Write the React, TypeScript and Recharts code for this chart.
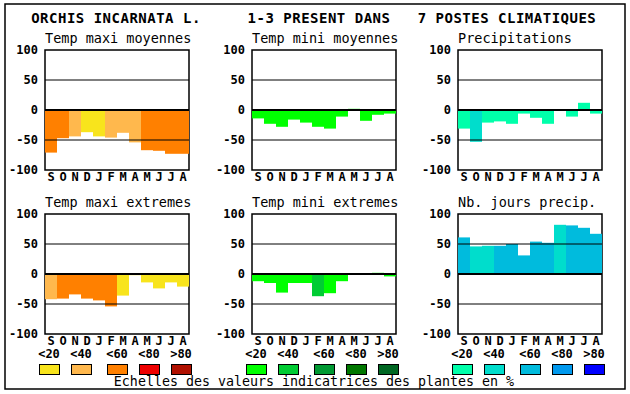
import { Bar, BarChart, Cell, ReferenceArea, ReferenceLine, XAxis, YAxis } from "recharts";

const months = ["S", "O", "N", "D", "J", "F", "M", "A", "M", "J", "J", "A"];
const yTicks = [100, 50, 0, -50, -100];
const classLabels = ["<20", "<40", "<60", "<80", ">80"];

// values, class = index into the palette (<20 ... >80)
const maxiMoyValues = [-71, -47, -44, -37, -44, -46, -38, -54, -67, -68, -73, -73];
const maxiMoyClass = [2, 2, 1, 0, 0, 1, 1, 1, 2, 2, 2, 2];
const miniMoyValues = [-14, -23, -28, -16, -21, -28, -31, -11, 2, -18, -8, -6];
const miniMoyClass = [0, 0, 0, 0, 0, 0, 0, 0, 0, 0, 0, 0];
const precipValues = [-31, -53, -21, -19, -23, -6, -13, -23, 0, -11, 12, -6];
const precipClass = [0, 1, 0, 0, 0, 0, 0, 0, 0, 0, 0, 0];
const maxiExtValues = [-42, -41, -34, -41, -44, -54, -36, -2, -14, -24, -14, -21];
const maxiExtClass = [1, 2, 2, 2, 2, 2, 0, 0, 0, 0, 0, 0];
const miniExtValues = [-12, -15, -31, -15, -15, -37, -32, -12, 0, 0, 2, -4];
const miniExtClass = [0, 0, 0, 0, 0, 1, 0, 0, 0, 0, 0, 0];
const joursValues = [61, 46, 47, 47, 50, 31, 54, 52, 82, 81, 77, 67];
const joursClass = [2, 1, 1, 2, 2, 2, 2, 2, 1, 2, 2, 2];

const warm = ["#f8e41c", "#ffb84d", "#ff8000", "#ee0000", "#b01000"];
const green = ["#00ff00", "#00cc33", "#009933", "#007700", "#006622"];
const blue = ["#00ffaa", "#00ddcc", "#00bbdd", "#0099ee", "#0000ff"];

const mono = "'DejaVu Sans Mono', monospace";
const PW = 144;
const PH = 120;
const legendOffsets = [-6, 26, 62, 94, 126];

function Panel({
  title,
  values,
  classes,
  palette,
  left,
  top,
}: {
  title: string;
  values: number[];
  classes: number[];
  palette: string[];
  left: number;
  top: number;
}) {
  const data = months.map((m, i) => ({ month: m, v: values[i], c: classes[i] }));
  return (
    <>
      <div
        style={{
          position: "absolute",
          left,
          top: top - 19,
          fontFamily: mono,
          fontSize: 13.5,
          lineHeight: "14px",
          whiteSpace: "pre",
        }}
      >
        {title}
      </div>
      <div style={{ position: "absolute", left: left - 45, top: top - 10 }}>
        <BarChart
          width={45 + PW + 6}
          height={10 + PH + 25}
          data={data}
          margin={{ top: 10, right: 6, bottom: 5, left: 0 }}
          barCategoryGap={0}
          barGap={0}
        >
          <XAxis
            dataKey="month"
            interval={0}
            tickLine={false}
            axisLine={false}
            tickSize={0}
            tickMargin={2}
            height={20}
            tick={{ fill: "#000", fontFamily: mono, fontWeight: "bold", fontSize: 12 }}
          />
          <YAxis
            type="number"
            domain={[-100, 100]}
            ticks={yTicks}
            interval={0}
            width={45}
            tickLine={false}
            axisLine={false}
            tickSize={5}
            tickMargin={2}
            tick={{ fill: "#000", fontFamily: mono, fontWeight: "bold", fontSize: 12 }}
          />
          <Bar dataKey="v" isAnimationActive={false}>
            {data.map((d, i) => (
              <Cell key={i} fill={palette[d.c]} />
            ))}
          </Bar>
          <ReferenceLine y={50} stroke="#000" strokeWidth={1} />
          <ReferenceLine y={-50} stroke="#000" strokeWidth={1} />
          <ReferenceLine y={0} stroke="#000" strokeWidth={2} />
          <ReferenceArea y1={-100} y2={100} fill="none" stroke="#000" strokeWidth={1.5} fillOpacity={0} />
        </BarChart>
      </div>
    </>
  );
}

function Legend({ palette, left }: { palette: string[]; left: number }) {
  return (
    <g>
      {classLabels.map((t, i) => (
        <g key={t}>
          <text
            x={left + legendOffsets[i] + 10}
            y={358}
            textAnchor="middle"
            fontFamily={mono}
            fontWeight="bold"
            fontSize={12}
          >
            {t}
          </text>
          <rect x={left + legendOffsets[i] + 0.5} y={364.5} width={20} height={10} fill={palette[i]} stroke="#000" />
        </g>
      ))}
    </g>
  );
}

export default function App() {
  return (
    <div style={{ position: "absolute", left: 0, top: 0, width: 630, height: 394, background: "#fff" }}>
      <svg width={630} height={394} style={{ position: "absolute", left: 0, top: 0 }}>
        <rect x={5} y={4} width={620} height={385} fill="none" stroke="#000" strokeWidth={1.5} />
        <g fontFamily={mono} fontWeight="bold" fontSize={14} letterSpacing={0.5} textAnchor="middle">
          <text x={116} y={23}>ORCHIS INCARNATA L.</text>
          <text x={319} y={23}>1-3 PRESENT DANS</text>
          <text x={507} y={23}>7 POSTES CLIMATIQUES</text>
        </g>
        <Legend palette={warm} left={45} />
        <Legend palette={green} left={252} />
        <Legend palette={blue} left={458} />
        <text x={314} y={386} textAnchor="middle" fontFamily={mono} fontSize={13.3}>
          Echelles des valeurs indicatrices des plantes en %
        </text>
      </svg>
      <Panel title="Temp maxi moyennes" values={maxiMoyValues} classes={maxiMoyClass} palette={warm} left={45} top={50} />
      <Panel title="Temp mini moyennes" values={miniMoyValues} classes={miniMoyClass} palette={green} left={252} top={50} />
      <Panel title="Precipitations" values={precipValues} classes={precipClass} palette={blue} left={458} top={50} />
      <Panel title="Temp maxi extremes" values={maxiExtValues} classes={maxiExtClass} palette={warm} left={45} top={214} />
      <Panel title="Temp mini extremes" values={miniExtValues} classes={miniExtClass} palette={green} left={252} top={214} />
      <Panel title="Nb. jours precip." values={joursValues} classes={joursClass} palette={blue} left={458} top={214} />
    </div>
  );
}
